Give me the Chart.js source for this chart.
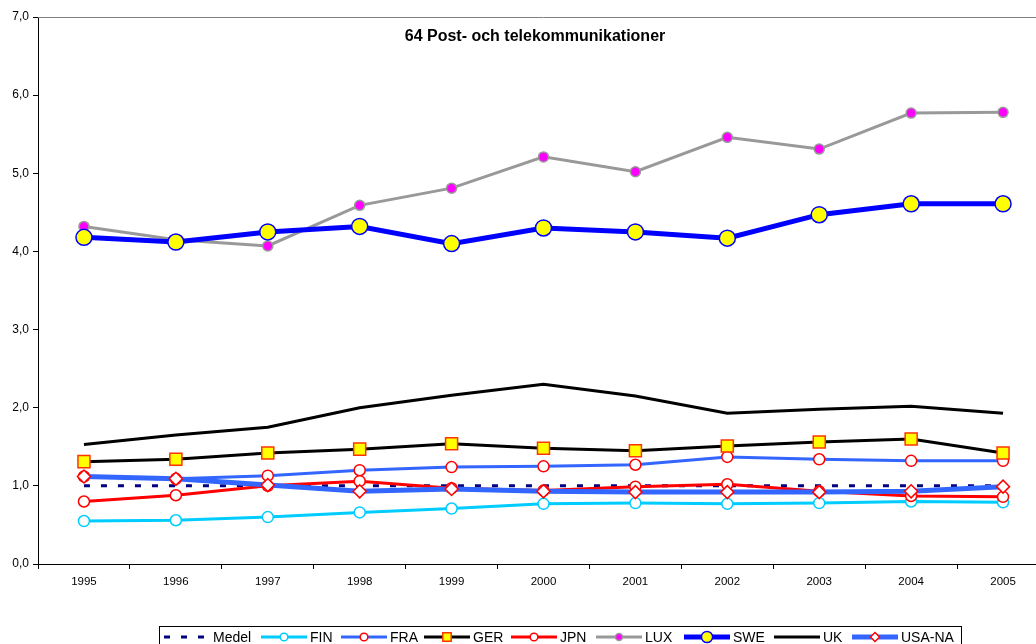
<!DOCTYPE html>
<html>
<head>
<meta charset="utf-8">
<script src="https://cdn.jsdelivr.net/npm/chart.js@4/dist/chart.umd.min.js"></script>
<style>
html,body{margin:0;padding:0;background:#fff;overflow:hidden;width:1036px;height:644px;}
canvas{display:block;}
</style>
</head>
<body>
<canvas id="c" width="1059" height="700"></canvas>
<script>
const categories = ['1995','1996','1997','1998','1999','2000','2001','2002','2003','2004','2005'];
const chartTitle = '64 Post- och telekommunikationer';
const seriesNames = ['Medel','FIN','FRA','GER','JPN','LUX','SWE','UK','USA-NA'];
const medel = [1.00,1.00,1.00,1.00,1.00,1.00,1.00,1.00,1.00,1.00,1.00];
const fin   = [0.55,0.56,0.60,0.66,0.71,0.77,0.78,0.77,0.78,0.80,0.79];
const fra   = [1.12,1.09,1.13,1.20,1.24,1.25,1.27,1.37,1.34,1.32,1.32];
const ger   = [1.31,1.34,1.42,1.47,1.54,1.48,1.45,1.51,1.56,1.60,1.42];
const jpn   = [0.80,0.88,1.00,1.06,0.97,0.94,0.99,1.02,0.93,0.87,0.86];
const lux   = [4.32,4.15,4.07,4.59,4.81,5.21,5.02,5.46,5.31,5.77,5.78];
const swe   = [4.18,4.12,4.25,4.32,4.10,4.30,4.25,4.17,4.47,4.61,4.61];
const uk    = [1.53,1.65,1.75,2.00,2.16,2.30,2.15,1.93,1.98,2.02,1.93];
const usaNa = [1.12,1.09,1.01,0.93,0.96,0.93,0.92,0.92,0.92,0.93,0.99];
const yTicks = [0,1,2,3,4,5,6,7];

const FONT = '"Liberation Sans", Arial, sans-serif';

const styles = [
  {data: medel, borderColor:'#000080', borderWidth:3, borderDash:[6,11], pointRadius:0},
  {data: fin, borderColor:'#00CCFF', borderWidth:3, pointStyle:'circle', pointRadius:5.5, pointBackgroundColor:'#FFFFFF', pointBorderColor:'#00CCFF', pointBorderWidth:1.5},
  {data: fra, borderColor:'#3366FF', borderWidth:3, pointStyle:'circle', pointRadius:5.5, pointBackgroundColor:'#FFFFFF', pointBorderColor:'#FF0000', pointBorderWidth:1.5},
  {data: ger, borderColor:'#000000', borderWidth:3, pointStyle:'rect', pointRadius:8.5, pointBackgroundColor:'#FFFF00', pointBorderColor:'#FF3300', pointBorderWidth:1.5},
  {data: jpn, borderColor:'#FF0000', borderWidth:3, pointStyle:'circle', pointRadius:5.5, pointBackgroundColor:'#FFFFFF', pointBorderColor:'#FF0000', pointBorderWidth:1.5},
  {data: lux, borderColor:'#999999', borderWidth:3, pointStyle:'circle', pointRadius:5, pointBackgroundColor:'#FF00FF', pointBorderColor:'#999999', pointBorderWidth:1.5},
  {data: swe, borderColor:'#0000FF', borderWidth:5, pointStyle:'circle', pointRadius:8, pointBackgroundColor:'#FFFF00', pointBorderColor:'#0000FF', pointBorderWidth:1.5},
  {data: uk, borderColor:'#000000', borderWidth:3, pointRadius:0},
  {data: usaNa, borderColor:'#3366FF', borderWidth:5, pointStyle:'rectRot', pointRadius:6.5, pointBackgroundColor:'#FFFFFF', pointBorderColor:'#FF0000', pointBorderWidth:1.5}
];

const datasets = styles.map((s, i) => Object.assign({
  label: seriesNames[i],
  fill: false,
  tension: 0,
  order: styles.length - i,
  pointHoverRadius: s.pointRadius,
}, s));

const legendTextX = [213, 310, 390, 473, 560, 645, 733, 823, 901];

const frameTitle = {
  id: 'frameTitle',
  beforeDatasetsDraw(chart) {
    const {ctx, chartArea:a} = chart;
    ctx.save();
    ctx.strokeStyle = '#808080';
    ctx.lineWidth = 1;
    ctx.beginPath();
    ctx.moveTo(a.left, a.top + 0.5);
    ctx.lineTo(a.right, a.top + 0.5);
    ctx.lineTo(a.right - 0.5, a.bottom);
    ctx.stroke();
    ctx.restore();
  },
  afterDraw(chart) {
    const {ctx} = chart;
    ctx.save();
    ctx.fillStyle = '#000';
    ctx.font = 'bold 16px ' + FONT;
    ctx.textAlign = 'center';
    ctx.textBaseline = 'middle';
    ctx.fillText(chartTitle, 535, 37);
    // legend
    ctx.font = '14px ' + FONT;
    ctx.textBaseline = 'alphabetic';
    ctx.textAlign = 'left';
    const boxL = 159, boxT = 626, boxR = 961;
    ctx.strokeStyle = '#000';
    ctx.lineWidth = 1;
    ctx.strokeRect(boxL + 0.5, boxT + 0.5, boxR - boxL, 40);
    const ly = 637, baseY = 642;
    datasets.forEach((d, i) => {
      const tx = legendTextX[i];
      const lx0 = (i === 0) ? 161 : tx - 49, lx1 = lx0 + 46;
      ctx.save();
      ctx.strokeStyle = d.borderColor;
      ctx.lineWidth = d.borderWidth;
      if (d.borderDash) { ctx.setLineDash(d.borderDash); ctx.lineDashOffset = 14; }
      ctx.beginPath();
      ctx.moveTo(lx0, ly);
      ctx.lineTo(lx1, ly);
      ctx.stroke();
      ctx.restore();
      if (d.pointRadius > 0) {
        const cx = (lx0 + lx1) / 2;
        const r = d.pointRadius * 0.7;
        ctx.save();
        ctx.fillStyle = d.pointBackgroundColor;
        ctx.strokeStyle = d.pointBorderColor;
        ctx.lineWidth = d.pointBorderWidth;
        ctx.beginPath();
        if (d.pointStyle === 'circle') {
          ctx.arc(cx, ly, r, 0, Math.PI * 2);
        } else if (d.pointStyle === 'rect') {
          const h = r * Math.SQRT1_2;
          ctx.rect(cx - h, ly - h, 2 * h, 2 * h);
        } else if (d.pointStyle === 'rectRot') {
          ctx.moveTo(cx, ly - r); ctx.lineTo(cx + r, ly); ctx.lineTo(cx, ly + r); ctx.lineTo(cx - r, ly); ctx.closePath();
        }
        ctx.fill();
        ctx.stroke();
        ctx.restore();
      }
      ctx.fillStyle = '#000';
      ctx.fillText(d.label, tx, baseY);
    });
    ctx.restore();
  }
};

new Chart(document.getElementById('c'), {
  type: 'line',
  data: { labels: categories, datasets },
  options: {
    responsive: false,
    animation: false,
    events: [],
    layout: { padding: { top: 17, right: 3, bottom: 100, left: 0 } },
    plugins: { legend: { display: false }, title: { display: false }, tooltip: { enabled: false } },
    scales: {
      x: {
        type: 'category',
        offset: true,
        grid: { offset: true, drawOnChartArea: false, drawTicks: true, tickLength: 5, color: '#000' },
        border: { display: true, color: '#000', width: 1 },
        ticks: { color: '#000', font: { family: FONT, size: 11.5 }, padding: 6, maxRotation: 0, autoSkip: false },
        afterFit(scale) { scale.height = 36; }
      },
      y: {
        min: 0, max: 7,
        afterBuildTicks(scale) { scale.ticks = yTicks.map(v => ({value: v})); },
        grid: { drawOnChartArea: false, drawTicks: true, tickLength: 5, color: '#000' },
        border: { display: true, color: '#000', width: 1 },
        ticks: { color: '#000', font: { family: FONT, size: 12 }, padding: 4,
          callback: v => Number(v).toFixed(1).replace('.', ',') },
        afterFit(scale) { scale.width = 38; }
      }
    }
  },
  plugins: [frameTitle]
});
</script>
</body>
</html>
